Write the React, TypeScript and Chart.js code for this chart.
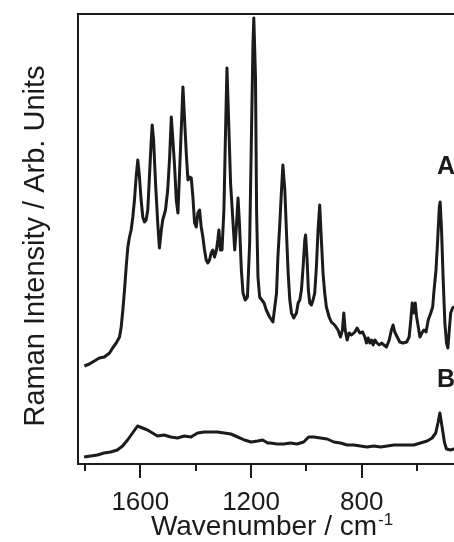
import React, { useEffect, useRef } from "react";
import { Chart, registerables } from "chart.js";

Chart.register(...registerables);

// Spectrum A (upper trace): wavenumber (cm-1) and intensity (arb. units)
const wavenumberA = [
  1802, 1784, 1766, 1748, 1730, 1711, 1700, 1687, 1675, 1669, 1663, 1657, 1651, 1645, 1639, 1633, 1627, 1621, 1615, 1609,
  1603, 1597, 1591, 1585, 1579, 1573, 1567, 1561, 1557, 1552, 1545, 1537, 1531, 1524, 1519, 1509, 1501, 1494, 1488, 1483,
  1476, 1470, 1464, 1455, 1446, 1440, 1434, 1428, 1422, 1416, 1410, 1404, 1398, 1392, 1386, 1380, 1374, 1368, 1362, 1356,
  1350, 1344, 1338, 1332, 1325, 1320, 1316, 1311, 1305, 1298, 1293, 1287, 1281, 1274, 1265, 1259, 1253, 1247, 1242, 1235,
  1229, 1221, 1213, 1205, 1199, 1193, 1190, 1184, 1180, 1175, 1169, 1161, 1153, 1145, 1133, 1121, 1108, 1103, 1096, 1090,
  1085, 1078, 1072, 1066, 1060, 1054, 1046, 1036, 1030, 1024, 1018, 1012, 1006, 1003, 998, 993, 988, 982, 976, 970,
  964, 958, 952, 946, 940, 934, 928, 918, 910, 898, 886, 877, 870, 865, 860, 853, 846, 837, 825, 817,
  807, 797, 789, 783, 777, 771, 765, 759, 753, 745, 737, 729, 720, 711, 701, 693, 687, 681, 672, 663,
  651, 638, 629, 623, 618, 612, 607, 602, 596, 590, 583, 576, 568, 560, 551, 544, 540, 532, 526, 520,
  517, 512, 506, 500, 494, 489, 484, 479, 472, 467, 455,
];
const intensityA = [
  98, 100, 103, 106, 107, 111, 116, 121, 127, 137, 154, 174, 197, 217, 227, 234, 247, 264, 287, 304,
  287, 264, 247, 242, 244, 254, 287, 321, 339, 324, 281, 241, 216, 234, 244, 254, 274, 307, 347, 327,
  297, 264, 251, 314, 377, 344, 311, 284, 287, 286, 267, 241, 237, 251, 254, 237, 227, 214, 204, 201,
  204, 211, 214, 207, 214, 224, 234, 214, 214, 254, 321, 396, 344, 281, 241, 214, 237, 266, 241, 194,
  171, 164, 167, 221, 321, 421, 446, 387, 254, 187, 167, 164, 161, 154, 147, 142, 171, 207, 241, 274,
  299, 274, 231, 191, 164, 151, 146, 151, 161, 164, 174, 197, 224, 229, 207, 174, 161, 159, 164, 171,
  197, 234, 259, 224, 191, 171, 157, 147, 142, 139, 134, 127, 134, 151, 134, 124, 131, 129, 132, 136,
  131, 132, 127, 121, 126, 121, 124, 119, 124, 121, 119, 121, 119, 117, 124, 134, 139, 132, 127, 122,
  121, 122, 127, 144, 161, 151, 161, 147, 137, 127, 131, 134, 132, 144, 151, 157, 171, 194, 224, 257,
  262, 234, 184, 141, 121, 116, 134, 151, 156, 157, 157,
];

// Spectrum B (lower trace)
const wavenumberB = [
  1803, 1779, 1755, 1731, 1707, 1683, 1664, 1646, 1628, 1610, 1592, 1574, 1556, 1538, 1514, 1490, 1466, 1441, 1417, 1393,
  1369, 1345, 1321, 1297, 1273, 1248, 1224, 1200, 1176, 1158, 1140, 1130, 1106, 1082, 1058, 1034, 1010, 992, 974, 949,
  925, 901, 877, 853, 829, 805, 781, 757, 732, 708, 684, 660, 636, 612, 588, 564, 546, 533, 525, 518,
  510, 501, 494, 479, 467, 455,
];
const intensityB = [
  7, 8, 9, 11, 12, 14, 18, 24, 31, 38, 36, 34, 31, 28, 29, 27, 26, 28, 27, 31,
  32, 32, 32, 31, 30, 27, 24, 22, 23, 24, 21, 21, 20, 20, 21, 20, 22, 27, 27, 26,
  25, 22, 21, 19, 19, 18, 17, 18, 17, 18, 19, 19, 19, 19, 21, 23, 26, 31, 41, 51,
  37, 21, 15, 14, 15, 15,
];

const majorTicks = [1600, 1200, 800];
const minorTicks = [1800, 1400, 1000, 600];
const xMin = 467;
const xMax = 1825;
const yMin = 0;
const yMax = 450;
const traceLabels = [
  { text: "A", value: 290 },
  { text: "B", value: 77 },
];
const yTitle = "Raman Intensity / Arb. Units";
const xTitle = "Wavenumber / cm";
const xTitleSup = "-1";

const INK = "#1b1b1b";
const FONT = '"Liberation Sans", Arial, Helvetica, sans-serif';

const decorPlugin = {
  id: "decor",
  afterDraw(chart: any) {
    const { ctx, chartArea } = chart;
    const xs = chart.scales.x;
    const ys = chart.scales.y;
    ctx.save();
    // top frame line
    ctx.strokeStyle = INK;
    ctx.lineWidth = 2;
    ctx.beginPath();
    ctx.moveTo(chartArea.left - 1, chartArea.top);
    ctx.lineTo(chartArea.right, chartArea.top);
    ctx.stroke();
    // minor ticks
    for (const v of minorTicks) {
      const px = Math.round(xs.getPixelForValue(v));
      ctx.beginPath();
      ctx.moveTo(px, chartArea.bottom);
      ctx.lineTo(px, chartArea.bottom + 7);
      ctx.stroke();
    }
    ctx.fillStyle = INK;
    ctx.textBaseline = "alphabetic";
    // x-axis title with superscript
    ctx.textAlign = "left";
    ctx.font = `28px ${FONT}`;
    const w = ctx.measureText(xTitle).width;
    ctx.font = `17px ${FONT}`;
    const sw = ctx.measureText(xTitleSup).width;
    const cx = 272;
    const startX = cx - (w + sw + 1) / 2;
    ctx.font = `28px ${FONT}`;
    ctx.fillText(xTitle, startX, 535);
    ctx.font = `17px ${FONT}`;
    ctx.fillText(xTitleSup, startX + w + 1, 525);
    // y-axis title
    ctx.save();
    ctx.translate(44, 246);
    ctx.rotate(-Math.PI / 2);
    ctx.textAlign = "center";
    ctx.font = `29px ${FONT}`;
    ctx.fillText(yTitle, 0, 0);
    ctx.restore();
    // trace labels
    ctx.textAlign = "left";
    ctx.font = `bold 25px ${FONT}`;
    for (const l of traceLabels) {
      ctx.fillText(l.text, 437, ys.getPixelForValue(l.value));
    }
    ctx.restore();
  },
};

export default function App() {
  const ref = useRef<HTMLCanvasElement | null>(null);
  useEffect(() => {
    const canvas = ref.current;
    if (!canvas) return;
    const dataA = wavenumberA.map((x, i) => ({ x, y: intensityA[i] }));
    const dataB = wavenumberB.map((x, i) => ({ x, y: intensityB[i] }));
    const chart = new Chart(canvas, {
      type: "line",
      data: {
        datasets: [
          {
            label: "A",
            data: dataA,
            borderColor: INK,
            borderWidth: 3,
            borderJoinStyle: "round",
            pointRadius: 0,
            tension: 0,
            fill: false,
          },
          {
            label: "B",
            data: dataB,
            borderColor: INK,
            borderWidth: 3,
            borderJoinStyle: "round",
            pointRadius: 0,
            tension: 0,
            fill: false,
          },
        ],
      },
      options: {
        responsive: false,
        animation: false,
        layout: { padding: { top: 14, left: 0, right: 0, bottom: 0 } },
        plugins: {
          legend: { display: false },
          tooltip: { enabled: false },
        },
        scales: {
          x: {
            type: "linear",
            reverse: true,
            min: xMin,
            max: xMax,
            afterFit: (scale: any) => {
              scale.height = 78;
            },
            afterBuildTicks: (scale: any) => {
              scale.ticks = [...minorTicks, ...majorTicks]
                .sort((a, b) => b - a)
                .map((v) => ({ value: v }));
            },
            border: { display: true, color: INK, width: 2 },
            grid: {
              display: true,
              drawOnChartArea: false,
              drawTicks: true,
              tickLength: 14,
              lineWidth: 2,
              color: (c: any) =>
                c.tick && majorTicks.includes(c.tick.value) ? INK : "rgba(0,0,0,0)",
            },
            ticks: {
              autoSkip: false,
              maxRotation: 0,
              minRotation: 0,
              padding: 12,
              color: INK,
              font: { family: FONT, size: 26, lineHeight: 1 },
              callback: (v: any) => (majorTicks.includes(Number(v)) ? String(v) : ""),
            },
            title: { display: false },
          },
          y: {
            type: "linear",
            min: yMin,
            max: yMax,
            afterFit: (scale: any) => {
              scale.width = 78;
            },
            border: { display: true, color: INK, width: 2 },
            grid: { display: false, drawTicks: false },
            ticks: { display: false },
            title: { display: false },
          },
        },
      },
      plugins: [decorPlugin],
    });
    return () => chart.destroy();
  }, []);
  return (
    <div style={{ position: "absolute", left: 0, top: 0, width: 454, height: 542, background: "#fff" }}>
      <canvas ref={ref} width={454} height={542} style={{ display: "block", width: 454, height: 542 }} />
    </div>
  );
}
